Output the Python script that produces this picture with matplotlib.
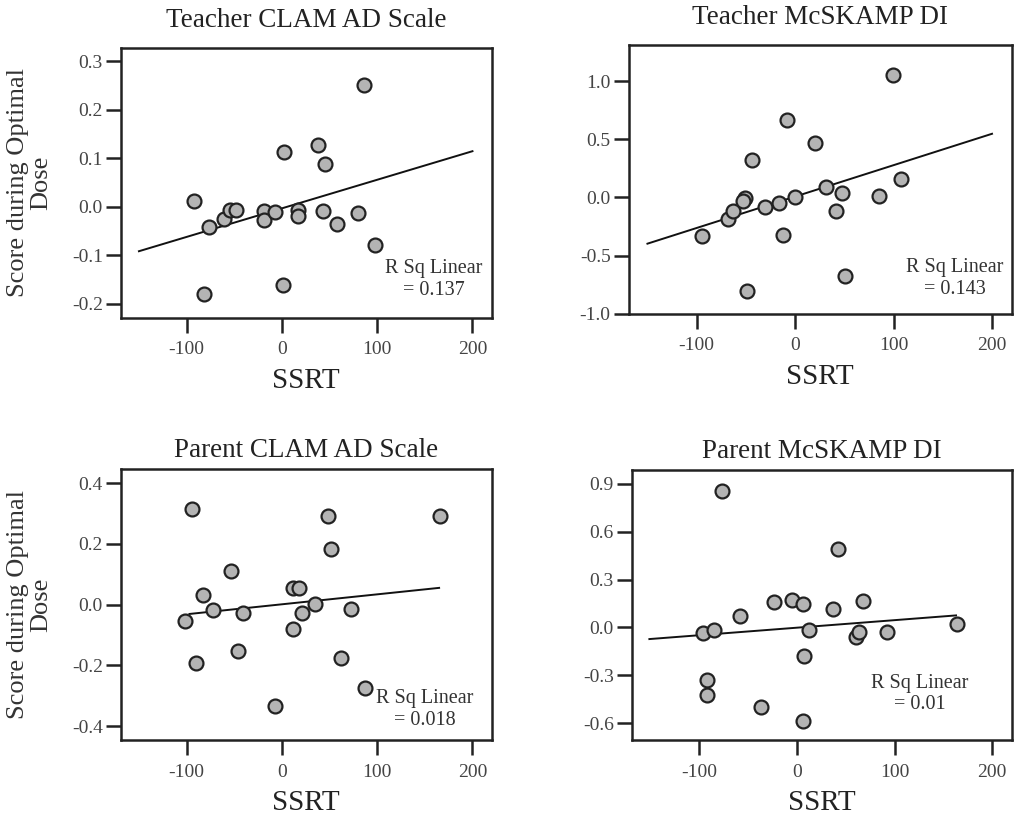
import numpy as np
import matplotlib
matplotlib.use('Agg')
import matplotlib.pyplot as plt

plt.rcParams['font.family'] = ['Liberation Serif', 'DejaVu Serif']
plt.rcParams['axes.unicode_minus'] = False

# ============== data ===================
titles = ['Teacher CLAM AD Scale', 'Teacher McSKAMP DI',
          'Parent CLAM AD Scale', 'Parent McSKAMP DI']
rsq_text = ['0.137', '0.143', '0.018', '0.01']

tc_x = [-92.7, -81.5, -76.9, -61.2, -54.2, -47.9, -19.2, -18.5, -7.7, 2.4,
        0.7, 16.4, 16.4, 37.4, 45.5, 43.0, 57.7, 80.4, 86.4, 97.9]
tc_y = [0.012, -0.179, -0.041, -0.026, -0.006, -0.006, -0.008, -0.028, -0.012, 0.112,
        -0.162, -0.006, -0.019, 0.128, 0.088, -0.009, -0.036, -0.014, 0.250, -0.079]

tm_x = [-94.5, -67.9, -62.8, -51.2, -52.5, -44.0, -49.1, -30.4, -16.7, -12.6,
        -8.2, 0.0, 19.8, 31.4, 42.0, 48.1, 50.5, 85.7, 99.3, 107.8]
tm_y = [-0.334, -0.186, -0.114, -0.006, -0.030, 0.323, -0.806, -0.086, -0.049, -0.323,
        0.666, 0.0, 0.471, 0.086, -0.114, 0.034, -0.677, 0.014, 1.051, 0.157]

pc_x = [-101.4, -94.4, -90.2, -83.2, -72.6, -53.3, -46.3, -41.1, -6.7, 11.9,
        11.9, 17.9, 21.4, 34.7, 48.8, 51.2, 61.8, 73.0, 87.0, 166.3]
pc_y = [-0.053, 0.315, -0.191, 0.030, -0.018, 0.109, -0.152, -0.029, -0.335, -0.081,
        0.054, 0.054, -0.028, 0.002, 0.293, 0.182, -0.175, -0.014, -0.276, 0.292]

pm_x = [-95.9, -84.8, -92.4, -92.4, -76.2, -57.9, -37.2, -23.4, -4.5, 5.9,
        7.6, 6.6, 12.8, 36.9, 42.1, 61.0, 63.4, 67.9, 92.1, 163.8]
pm_y = [-0.035, -0.019, -0.328, -0.426, 0.852, 0.069, -0.499, 0.161, 0.169, 0.146,
        -0.182, -0.589, -0.019, 0.115, 0.491, -0.061, -0.031, 0.163, -0.031, 0.021]

# fit lines: slope, intercept, x range
fit_slope = [0.000589, 0.00270, 0.000328, 0.000472]
fit_icpt = [-0.0035, 0.007, 0.0009, -0.0017]
fit_x = [[-150, 200], [-150, 200], [-97, 165], [-151, 163]]

xs = [tc_x, tm_x, pc_x, pm_x]
ys = [tc_y, tm_y, pc_y, pm_y]
yticks = [np.arange(-0.2, 0.31, 0.1), np.arange(-1.0, 1.01, 0.5),
          np.arange(-0.4, 0.41, 0.2), np.arange(-0.6, 0.91, 0.3)]
ylims = [(-0.229, 0.328), (-1.0, 1.31), (-0.446, 0.447), (-0.705, 0.988)]

# ============== layout ===================
rects = [[0.118, 0.612, 0.362, 0.330],
         [0.614, 0.617, 0.374, 0.328],
         [0.118, 0.0965, 0.362, 0.331],
         [0.617, 0.0965, 0.371, 0.330]]
rsq_pos = [(0.844, 0.143), (0.851, 0.13), (0.82, 0.111), (0.758, 0.17)]
title_pad = [15, 15, 8.5, 8.5]

fig = plt.figure(figsize=(10.24, 8.19), dpi=100)

for i in range(4):
    ax = fig.add_axes(rects[i])
    ax.scatter(xs[i], ys[i], s=100, facecolor='#b4b4b4', edgecolor='#222222',
               linewidth=1.6, zorder=3)
    lx = np.array(fit_x[i])
    ax.plot(lx, fit_slope[i] * lx + fit_icpt[i], color='#111111', lw=1.4, zorder=2)
    ax.set_xlim(-169, 220)
    ax.set_ylim(*ylims[i])
    ax.set_xticks([-100, 0, 100, 200])
    ax.set_yticks(yticks[i])
    ax.set_yticklabels(['%.1f' % v for v in yticks[i]])
    for sp in ax.spines.values():
        sp.set_linewidth(1.8)
        sp.set_color('#222222')
    ax.tick_params(direction='out', length=11, width=1.8, colors='#222222',
                   labelsize=14, labelcolor='#444444', pad=2)
    ax.tick_params(axis='x', pad=6)
    ax.set_title(titles[i], fontsize=19.5, pad=title_pad[i], color='#222222')
    ax.set_xlabel('SSRT', fontsize=21, labelpad=7, color='#222222')
    if i % 2 == 0:
        ax.set_ylabel('Score during Optimal\nDose', fontsize=19, color='#333333',
                      linespacing=1.05)
        ax.yaxis.set_label_coords(-0.185, 0.5)
    ax.text(rsq_pos[i][0], rsq_pos[i][1], 'R Sq Linear\n= ' + rsq_text[i],
            transform=ax.transAxes, ha='center', va='center', fontsize=14.5,
            color='#333333', linespacing=1.2)

fig.savefig('out.png', dpi=100)
